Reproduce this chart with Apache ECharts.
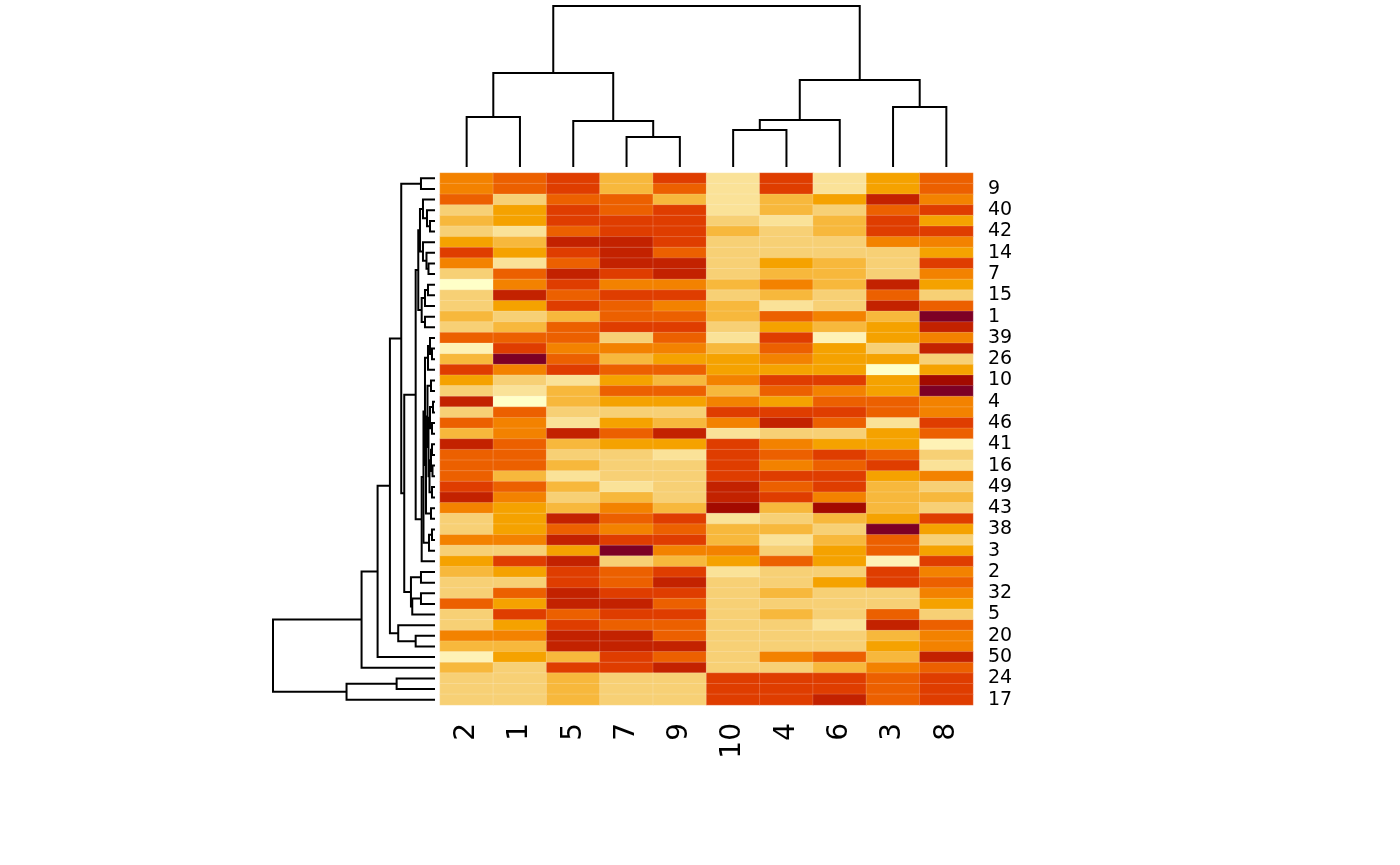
<!DOCTYPE html>
<html>
<head>
<meta charset="utf-8">
<script src="https://cdn.jsdelivr.net/npm/echarts@6/dist/echarts.min.js"></script>
<style>
html, body { margin: 0; padding: 0; background: #fff; }
#main { width: 1400px; height: 865px; }
</style>
</head>
<body>
<div id="main"></div>
<script>
// column labels in dendrogram order
const colLabels = ['2', '1', '5', '7', '9', '10', '4', '6', '3', '8'];
// row labels, top to bottom (only every second one is drawn)
const rowLabels = ['12', '9', '33', '40', '21', '42', '28', '14', '45', '7',
  '36', '15', '6', '1', '29', '39', '18', '26', '34', '10',
  '47', '4', '13', '46', '22', '41', '31', '16', '8', '49',
  '37', '43', '44', '38', '11', '3', '27', '2', '19', '32',
  '35', '5', '23', '20', '48', '50', '25', '24', '30', '17'];
// colour levels: 1 = darkest red, 12 = palest yellow
const palette = ['#7d0025', '#a30a00', '#c32200', '#df3d00', '#ec6000', '#f38200',
  '#f5a200', '#f7b83c', '#f7d075', '#fae298', '#fef2b6', '#ffffc8'];
// cell levels, one line per row, columns in the order of colLabels
const cells = [
  [6, 5, 4, 8, 4, 10, 4, 10, 7, 5],
  [6, 5, 4, 8, 5, 10, 4, 10, 7, 5],
  [5, 9, 5, 5, 8, 10, 8, 7, 3, 6],
  [9, 7, 4, 5, 4, 10, 8, 9, 5, 4],
  [8, 7, 4, 4, 4, 9, 10, 8, 4, 7],
  [9, 10, 5, 4, 4, 8, 9, 8, 4, 4],
  [7, 8, 3, 3, 4, 9, 9, 9, 6, 6],
  [4, 7, 4, 3, 5, 9, 9, 9, 9, 7],
  [6, 10, 5, 3, 3, 9, 7, 8, 9, 4],
  [9, 5, 3, 4, 3, 9, 8, 8, 9, 6],
  [12, 6, 4, 6, 6, 8, 6, 8, 3, 7],
  [9, 3, 5, 4, 4, 9, 8, 9, 5, 9],
  [9, 7, 4, 5, 6, 8, 10, 9, 3, 5],
  [8, 9, 8, 5, 5, 8, 5, 6, 8, 1],
  [9, 8, 5, 4, 4, 9, 7, 8, 7, 3],
  [5, 5, 5, 9, 5, 10, 4, 11, 7, 6],
  [11, 4, 6, 6, 6, 8, 5, 7, 9, 3],
  [8, 1, 5, 8, 7, 7, 6, 7, 7, 9],
  [4, 6, 4, 5, 5, 7, 7, 7, 12, 7],
  [7, 9, 10, 7, 8, 6, 4, 4, 7, 2],
  [9, 10, 8, 5, 5, 8, 5, 6, 7, 1],
  [3, 12, 8, 7, 7, 6, 7, 5, 5, 6],
  [9, 5, 9, 9, 9, 4, 4, 4, 5, 6],
  [5, 6, 10, 7, 8, 6, 3, 5, 10, 4],
  [8, 6, 3, 5, 3, 10, 9, 9, 7, 5],
  [3, 5, 8, 7, 7, 4, 6, 7, 7, 11],
  [5, 5, 9, 9, 10, 4, 5, 4, 5, 9],
  [5, 5, 8, 9, 9, 4, 6, 5, 4, 10],
  [5, 8, 10, 9, 9, 4, 4, 4, 7, 6],
  [4, 5, 8, 10, 9, 3, 5, 4, 8, 9],
  [3, 6, 9, 8, 9, 3, 4, 6, 8, 8],
  [6, 7, 8, 6, 8, 2, 8, 2, 8, 9],
  [9, 7, 3, 5, 4, 10, 9, 8, 7, 4],
  [9, 7, 5, 6, 5, 8, 8, 9, 1, 7],
  [6, 6, 3, 4, 4, 8, 10, 8, 5, 9],
  [9, 9, 7, 1, 6, 6, 9, 7, 5, 7],
  [7, 4, 3, 9, 8, 7, 5, 7, 11, 4],
  [8, 7, 4, 5, 4, 10, 9, 9, 4, 6],
  [9, 9, 4, 5, 3, 9, 9, 7, 4, 5],
  [9, 5, 3, 4, 4, 9, 8, 9, 9, 6],
  [5, 7, 3, 3, 5, 9, 9, 9, 9, 7],
  [9, 4, 5, 4, 4, 9, 8, 9, 5, 9],
  [9, 7, 4, 5, 5, 9, 9, 10, 3, 5],
  [6, 6, 3, 3, 5, 9, 9, 9, 8, 6],
  [8, 8, 3, 3, 3, 9, 9, 9, 7, 6],
  [11, 7, 8, 4, 5, 9, 6, 5, 8, 3],
  [8, 9, 4, 4, 3, 9, 9, 8, 6, 5],
  [9, 9, 8, 9, 9, 4, 4, 4, 5, 4],
  [9, 9, 8, 9, 9, 4, 4, 4, 5, 4],
  [9, 9, 8, 9, 9, 4, 4, 3, 5, 4]
];
// dendrograms: [left, right, height], leaves are 1-based positions
const colTree = [[[1, 2, 50], [3, [4, 5, 30], 46], 94], [[[6, 7, 37], 8, 47], [9, 10, 60], 87], 161];
const rowA = [[16, [17, 18, 3], 5], 19, 7];
const rowB = [[[20, 21, 4], [[[22, 23, 2], [24, 25, 3], 5], [[[26, 27, 3], [28, 29, 2.5], 4], [30, 31, 3], 5.5], 6.5], 7.5], [32, 33, 4], 9];
const rowC = [[34, 35, 3], 36, 6];
const rowD1 = [[[3, [4, [5, 6, 5], 8], 12], [7, [8, [9, 10, 6.5], 8.5], 12], 15], [[[11, 12, 7], 13, 10], [14, 15, 10], 13.3], 16.7];
const rowD2 = [[[rowA, rowB, 10], rowC, 11.5], 37, 13.3];
const rowB2 = [[38, 39, 14], [[40, 41, 14], 42, 22.7], 24];
const rowC5 = [[1, 2, 14], [[rowD1, rowD2, 19.3], rowB2, 30.7], 33.7];
const rowC6 = [43, [44, 45, 19.3], 36.7];
const rowTree = [[[[rowC5, rowC6, 45], 46, 57.3], 47, 73.3], [[48, 49, 38.3], 50, 88.3], 161.7];

// walk a tree, push one bracket per merge; returns [position, height]
function walk(node, out) {
  if (!Array.isArray(node)) return [node, 0];
  const a = walk(node[0], out);
  const b = walk(node[1], out);
  const h = node[2];
  out.push([[a[0], a[1]], [a[0], h], [b[0], h], [b[0], b[1]]]);
  return [(a[0] + b[0]) / 2, h];
}
const colSegs = [];
walk(colTree, colSegs);
const rowSegs = [];
walk(rowTree, rowSegs);

const heatData = [];
cells.forEach((row, r) => {
  row.forEach((v, c) => heatData.push([c, r, v]));
});

const myEcharts = echarts.init(document.getElementById('main'));
const option = {
  animation: false,
  backgroundColor: '#fff',
  grid: [
    { left: 440, top: 173, width: 533, height: 532 },
    { left: 440, top: 6, width: 533, height: 161 },
    { left: 273, top: 173, width: 162, height: 532 }
  ],
  xAxis: [
    {
      type: 'category', gridIndex: 0, data: colLabels, position: 'bottom',
      axisLine: { show: false }, axisTick: { show: false }, splitLine: { show: false },
      axisLabel: { rotate: 90, fontSize: 28, color: '#000', margin: 18, fontFamily: 'DejaVu Sans' }
    },
    { type: 'value', gridIndex: 1, min: 0.5, max: 10.5, show: false },
    { type: 'value', gridIndex: 2, min: 0, max: 161.7, inverse: true, show: false }
  ],
  yAxis: [
    {
      type: 'category', gridIndex: 0, data: rowLabels, inverse: true, position: 'right',
      axisLine: { show: false }, axisTick: { show: false }, splitLine: { show: false },
      axisLabel: {
        fontSize: 19, color: '#000', margin: 15, fontFamily: 'DejaVu Sans',
        interval: function (i) { return i % 2 === 1; }
      }
    },
    { type: 'value', gridIndex: 1, min: 0, max: 161, show: false },
    { type: 'value', gridIndex: 2, min: 0.5, max: 50.5, inverse: true, show: false }
  ],
  visualMap: {
    type: 'piecewise', show: false, seriesIndex: 0, dimension: 2,
    pieces: palette.map((c, i) => ({ value: i + 1, color: c }))
  },
  series: [
    {
      type: 'heatmap', xAxisIndex: 0, yAxisIndex: 0, data: heatData,
      itemStyle: { borderColor: 'rgba(255,255,255,0.18)', borderWidth: 1 },
      emphasis: { disabled: true }
    },
    {
      type: 'lines', coordinateSystem: 'cartesian2d', xAxisIndex: 1, yAxisIndex: 1,
      polyline: true, silent: true,
      lineStyle: { color: '#000', width: 2, opacity: 1 },
      data: colSegs.map(s => ({ coords: s }))
    },
    {
      type: 'lines', coordinateSystem: 'cartesian2d', xAxisIndex: 2, yAxisIndex: 2,
      polyline: true, silent: true,
      lineStyle: { color: '#000', width: 2, opacity: 1 },
      data: rowSegs.map(s => ({ coords: s.map(p => [p[1], p[0]]) }))
    }
  ]
};
myEcharts.setOption(option);
window.addEventListener('resize', () => myEcharts.resize());
</script>
</body>
</html>
